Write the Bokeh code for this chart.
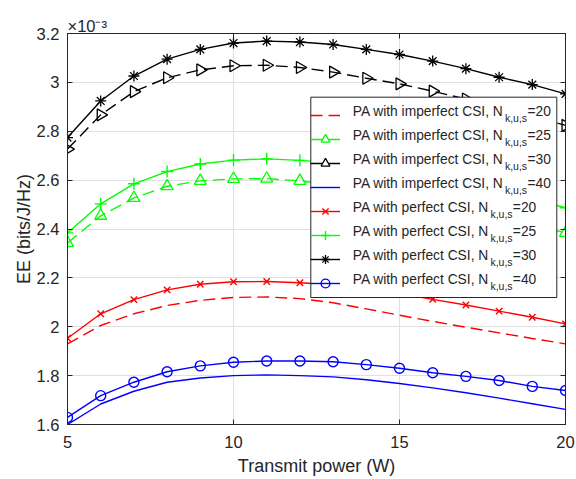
import math
from bokeh.plotting import figure
from bokeh.models import Range1d, LinearAxis, Legend, LegendItem, FixedTicker
from bokeh.core.properties import value
from bokeh.embed import file_html
from bokeh.resources import INLINE

# ---------------- data (EE values in units of 1e-3 bits/J/Hz) ----------------
power = [5, 6, 7, 8, 9, 10, 11, 12, 13, 14, 15, 16, 17, 18, 19, 20]

imperfect_20 = [1.930, 2.005, 2.053, 2.087, 2.108, 2.120, 2.122, 2.115, 2.098, 2.073, 2.047, 2.022, 1.998, 1.975, 1.952, 1.930]
imperfect_25 = [2.343, 2.454, 2.527, 2.575, 2.597, 2.605, 2.606, 2.597, 2.579, 2.557, 2.536, 2.509, 2.480, 2.450, 2.418, 2.384]
imperfect_30 = [2.727, 2.867, 2.962, 3.019, 3.051, 3.068, 3.070, 3.061, 3.042, 3.017, 2.994, 2.964, 2.932, 2.898, 2.862, 2.824]
imperfect_40 = [1.600, 1.684, 1.736, 1.773, 1.790, 1.800, 1.803, 1.800, 1.795, 1.783, 1.768, 1.750, 1.730, 1.708, 1.685, 1.662]

perfect_20 = [1.953, 2.053, 2.111, 2.151, 2.174, 2.184, 2.185, 2.180, 2.172, 2.158, 2.136, 2.112, 2.089, 2.064, 2.039, 2.012]
perfect_25 = [2.384, 2.503, 2.585, 2.635, 2.666, 2.682, 2.687, 2.681, 2.672, 2.655, 2.635, 2.610, 2.582, 2.552, 2.522, 2.487]
perfect_30 = [2.774, 2.924, 3.026, 3.095, 3.135, 3.161, 3.169, 3.165, 3.155, 3.135, 3.114, 3.087, 3.056, 3.021, 2.991, 2.953]
perfect_40 = [1.629, 1.718, 1.773, 1.816, 1.840, 1.855, 1.860, 1.860, 1.857, 1.845, 1.830, 1.812, 1.797, 1.780, 1.756, 1.739]

x_ticks = [5, 10, 15, 20]
x_tick_labels = ["5", "10", "15", "20"]
y_ticks = [1.6, 1.8, 2.0, 2.2, 2.4, 2.6, 2.8, 3.0, 3.2]
y_tick_labels = ["1.6", "1.8", "2", "2.2", "2.4", "2.6", "2.8", "3", "3.2"]
n_values = ["20", "25", "30", "40"]
legend_imperfect = "PA with imperfect CSI, N"
legend_perfect = "PA with perfect CSI, N"
legend_sub = "k,u,s"
x_label = "Transmit power (W)"
y_label = "EE (bits/J/Hz)"
exp_label = "\u00d710\u207b\u00b3"

# ---------------- style ----------------
FONT = "Liberation Sans"
AX = "#262626"
GRID = "#e0e0e0"
RED, GREEN, BLACK, BLUE = "#ff0000", "#00ff00", "#000000", "#0000ff"
DASH = "12 6"
LW = 1.4

W, H = 576, 479
ML, MR, MT, MB = 67, 11, 33, 55
FRAME_W = W - ML - MR
FRAME_H = H - MT - MB
X0, X1, Y0, Y1 = 5, 20, 1.6, 3.2

# Arial / Liberation Sans advance widths (per 1000 em) for text layout
ADV = {' ': 278, 'P': 667, 'A': 667, 'w': 722, 'i': 222, 't': 278, 'h': 556, 'm': 833,
       'p': 556, 'e': 556, 'r': 333, 'f': 278, 'c': 500, 'C': 722, 'S': 667, 'I': 278,
       ',': 278, 'N': 722, 'k': 500, 'u': 556, 's': 500, '=': 584}


def text_w(s, size):
    return sum(ADV.get(ch, 556) for ch in s) / 1000.0 * size


def fx(sx):  # pixel offset from frame left -> data x
    return X0 + sx * (X1 - X0) / FRAME_W


def fy(sy):  # pixel offset from frame top (downwards) -> data y
    return Y1 - sy * (Y1 - Y0) / FRAME_H


p = figure(width=W, height=H, output_backend="svg", toolbar_location=None,
           x_range=Range1d(X0, X1), y_range=Range1d(Y0, Y1),
           min_border_left=ML, min_border_right=MR, min_border_top=MT, min_border_bottom=MB,
           x_axis_label=x_label, y_axis_label=y_label, title=exp_label)
p.background_fill_color = "white"
p.border_fill_color = "white"
p.outline_line_color = AX
p.outline_line_width = 1

p.title.text_font = FONT
p.title.text_font_size = "16.5px"
p.title.text_font_style = "normal"
p.title.text_color = AX
p.title.align = "left"
p.title.offset = 0
p.title.standoff = -3

TICK_FS = "16.5px"
LABEL_FS = "18px"

xa = p.xaxis[0]
ya = p.yaxis[0]
xa.ticker = FixedTicker(ticks=x_ticks)
ya.ticker = FixedTicker(ticks=y_ticks)
xa.major_label_overrides = dict(zip(x_ticks, x_tick_labels))
ya.major_label_overrides = dict(zip(y_ticks, y_tick_labels))
for ax in (xa, ya):
    ax.axis_line_color = AX
    ax.major_tick_line_color = AX
    ax.major_tick_in = 5
    ax.major_tick_out = 0
    ax.minor_tick_line_color = None
    ax.major_label_text_font = FONT
    ax.major_label_text_font_size = TICK_FS
    ax.major_label_text_color = AX
    ax.axis_label_text_font = FONT
    ax.axis_label_text_font_size = LABEL_FS
    ax.axis_label_text_font_style = "normal"
    ax.axis_label_text_color = AX
xa.major_label_standoff = 11
xa.axis_label_standoff = 5
ya.major_label_standoff = 8
ya.axis_label_standoff = 0

# box ticks on top and right
for loc, ticks in (("above", x_ticks), ("right", y_ticks)):
    bx = LinearAxis(ticker=FixedTicker(ticks=ticks),
                    major_label_text_font_size="0px", major_label_text_alpha=0,
                    major_label_standoff=0,
                    major_tick_in=5, major_tick_out=0, minor_tick_line_color=None,
                    axis_line_color=AX, major_tick_line_color=AX)
    p.add_layout(bx, loc)

p.xgrid.grid_line_color = GRID
p.ygrid.grid_line_color = GRID
p.xgrid.grid_line_width = 1
p.ygrid.grid_line_width = 1

# ---------------- series ----------------
l_i20 = p.line(power, imperfect_20, line_color=RED, line_dash=DASH, line_width=LW)

l_i25 = p.line(power, imperfect_25, line_color=GREEN, line_dash=DASH, line_width=LW)
m_i25 = p.scatter(power, imperfect_25, marker="triangle", size=12, line_color=GREEN,
                  fill_color=None, line_width=1.3)

l_i30 = p.line(power, imperfect_30, line_color=BLACK, line_dash=DASH, line_width=LW)
m_i30 = p.scatter(power, imperfect_30, marker="triangle", angle=-math.pi / 2, size=12,
                  line_color=BLACK, fill_color=None, line_width=1.3)

l_i40 = p.line(power, imperfect_40, line_color=BLUE, line_width=LW)

l_p20 = p.line(power, perfect_20, line_color=RED, line_width=LW)
m_p20 = p.scatter(power, perfect_20, marker="x", size=9, line_color=RED, line_width=1.4)

l_p25 = p.line(power, perfect_25, line_color=GREEN, line_width=LW)
m_p25 = p.scatter(power, perfect_25, marker="cross", size=12, line_color=GREEN, line_width=1.4)

l_p30 = p.line(power, perfect_30, line_color=BLACK, line_width=LW)
m_p30 = p.scatter(power, perfect_30, marker="asterisk", size=11, line_color=BLACK, line_width=1.3)

l_p40 = p.line(power, perfect_40, line_color=BLUE, line_width=LW)
m_p40 = p.scatter(power, perfect_40, marker="circle", size=10, line_color=BLUE,
                  fill_color=None, line_width=1.4)

groups = [[l_i20], [l_i25, m_i25], [l_i30, m_i30], [l_i40],
          [l_p20, m_p20], [l_p25, m_p25], [l_p30, m_p30], [l_p40, m_p40]]
prefixes = [legend_imperfect] * 4 + [legend_perfect] * 4
suffixes = ["=" + n for n in n_values] * 2

# ---------------- legend ----------------
LEG_FS = 13.8
SUB_FS = 10.5
PAD, SPACING, ROW_H, GLYPH_W, STANDOFF, LABEL_W = 4, 2, 22, 30, 8, 200
EXTRA_TOP = 8                     # extra space bokeh leaves above the first item
BOX_L, BOX_R, BOX_T, BOX_B = 243.3, 489.3, 63.7, 264.0   # legend frame, px from frame top-left
ROW0 = 78.0                       # centre of first legend row, px below frame top
PITCH = ROW_H + SPACING
LEG_H = 2 * PAD + len(groups) * ROW_H + (len(groups) - 1) * SPACING + EXTRA_TOP
leg_top = ROW0 - ROW_H / 2 - PAD - EXTRA_TOP

# white legend box drawn beneath the legend samples
p.quad(left=[fx(BOX_L)], right=[fx(BOX_R)], top=[fy(BOX_T)], bottom=[fy(BOX_B)],
       fill_color="white", line_color=AX, line_width=1, level="annotation")

# legend samples come from bokeh's Legend; its texts are drawn below with sub-scripts
legend = Legend(items=[LegendItem(label=" ", renderers=g) for g in groups],
                location=(BOX_L, FRAME_H - (leg_top + LEG_H)), padding=PAD, spacing=SPACING,
                margin=0, glyph_width=GLYPH_W, glyph_height=ROW_H, label_height=ROW_H,
                label_width=LABEL_W, label_standoff=STANDOFF,
                label_text_font=FONT, label_text_font_size=f"{LEG_FS}px",
                label_text_color=AX,
                border_line_color=None, background_fill_alpha=0.0)
p.add_layout(legend)

label_x0 = BOX_L + PAD + GLYPH_W + STANDOFF
pre_x, pre_y, sub_x, sub_y, suf_x, suf_y = [], [], [], [], [], []
for i, pre in enumerate(prefixes):
    cy = ROW0 + i * PITCH
    xs = label_x0 + text_w(pre, LEG_FS)
    pre_x.append(fx(label_x0))
    pre_y.append(fy(cy))
    sub_x.append(fx(xs + 0.3))
    sub_y.append(fy(cy + 6))
    suf_x.append(fx(xs + text_w(legend_sub, SUB_FS) + 0.6))
    suf_y.append(fy(cy))

text_style = dict(text_font=value(FONT), text_color=AX, text_baseline="middle",
                  text_align="left", level="overlay")
p.text(x=pre_x, y=pre_y, text=prefixes, text_font_size=value(f"{LEG_FS}px"), **text_style)
p.text(x=sub_x, y=sub_y, text=[legend_sub] * len(sub_x),
       text_font_size=value(f"{SUB_FS}px"), **text_style)
p.text(x=suf_x, y=suf_y, text=suffixes, text_font_size=value(f"{LEG_FS}px"), **text_style)

open("out.html", "w").write(file_html(p, INLINE))
